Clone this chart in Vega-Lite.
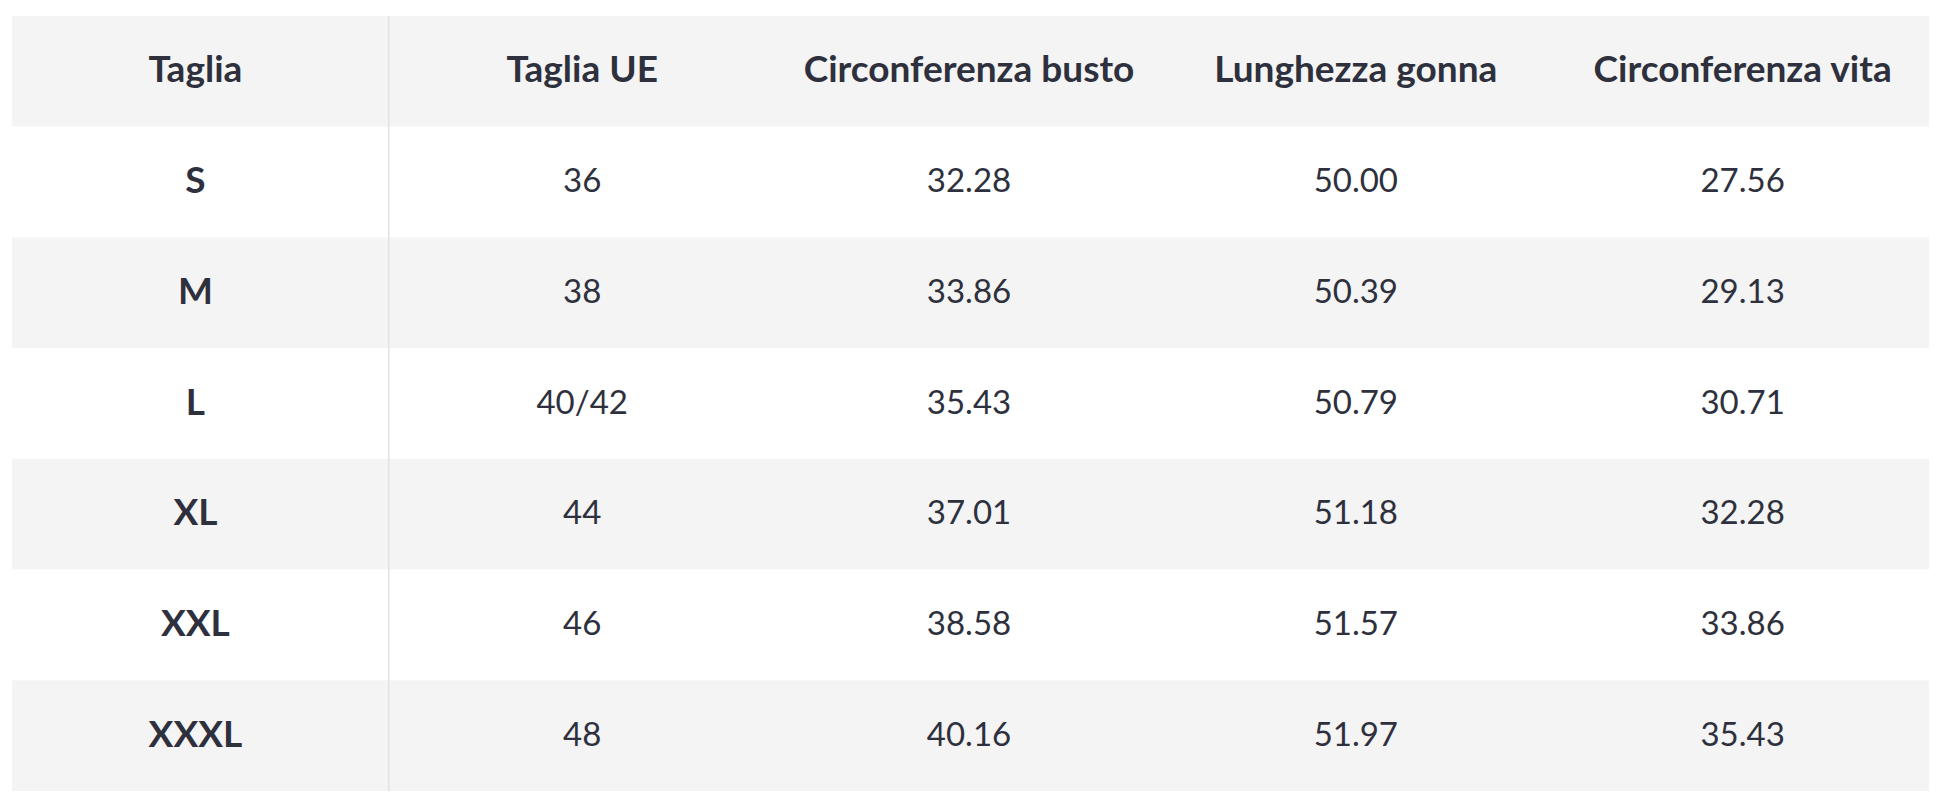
{
  "$schema": "https://vega.github.io/schema/vega-lite/v6.json",
  "width": 1945,
  "height": 809,
  "autosize": {"type": "fit", "contains": "padding"},
  "padding": {"left": 12, "right": 16, "top": 15, "bottom": 17},
  "background": "white",
  "config": {"view": {"stroke": null}},
  "datasets": {
    "sizes": [
      {"Taglia": "S", "Taglia UE": "36", "Circonferenza busto": "32.28", "Lunghezza gonna": "50.00", "Circonferenza vita": "27.56"},
      {"Taglia": "M", "Taglia UE": "38", "Circonferenza busto": "33.86", "Lunghezza gonna": "50.39", "Circonferenza vita": "29.13"},
      {"Taglia": "L", "Taglia UE": "40/42", "Circonferenza busto": "35.43", "Lunghezza gonna": "50.79", "Circonferenza vita": "30.71"},
      {"Taglia": "XL", "Taglia UE": "44", "Circonferenza busto": "37.01", "Lunghezza gonna": "51.18", "Circonferenza vita": "32.28"},
      {"Taglia": "XXL", "Taglia UE": "46", "Circonferenza busto": "38.58", "Lunghezza gonna": "51.57", "Circonferenza vita": "33.86"},
      {"Taglia": "XXXL", "Taglia UE": "48", "Circonferenza busto": "40.16", "Lunghezza gonna": "51.97", "Circonferenza vita": "35.43"}
    ],
    "rows": [
      {"row": "Header"}, {"row": "S"}, {"row": "M"}, {"row": "L"}, {"row": "XL"}, {"row": "XXL"}, {"row": "XXXL"}
    ],
    "columns": [
      {"col": "Taglia"}, {"col": "Taglia UE"}, {"col": "Circonferenza busto"}, {"col": "Lunghezza gonna"}, {"col": "Circonferenza vita"}
    ]
  },
  "layer": [
    {
      "data": {"name": "rows"},
      "mark": {"type": "rect"},
      "encoding": {
        "y": {"field": "row", "type": "nominal", "scale": {"domain": ["Header", "S", "M", "L", "XL", "XXL", "XXXL"], "paddingInner": 0, "paddingOuter": 0}, "axis": null},
        "fill": {"field": "row", "type": "nominal", "scale": {"domain": ["Header", "S", "M", "L", "XL", "XXL", "XXXL"], "range": ["#f4f4f4", "#ffffff", "#f4f4f4", "#ffffff", "#f4f4f4", "#ffffff", "#f4f4f4"]}, "legend": null}
      }
    },
    {
      "data": {"name": "columns"},
      "mark": {"type": "rule", "color": "#e2e2e2", "strokeWidth": 1.5},
      "transform": [{"filter": "datum.col === 'Taglia UE'"}],
      "encoding": {
        "x": {"field": "col", "type": "nominal", "bandPosition": 0, "scale": {"domain": ["Taglia", "Taglia UE", "Circonferenza busto", "Lunghezza gonna", "Circonferenza vita"], "range": [-10, 1924], "paddingInner": 0, "paddingOuter": 0}, "axis": null}
      }
    },
    {
      "data": {"name": "columns"},
      "mark": {"type": "text", "font": "Lato", "fontSize": 37, "fontWeight": "bold", "color": "#2e313d"},
      "encoding": {
        "x": {"field": "col", "type": "nominal", "axis": null},
        "y": {"datum": "Header", "type": "nominal"},
        "text": {"field": "col"}
      }
    },
    {
      "data": {"name": "sizes"},
      "mark": {"type": "text", "font": "Lato", "fontSize": 37, "fontWeight": "bold", "color": "#2e313d"},
      "encoding": {
        "x": {"datum": "Taglia", "type": "nominal"},
        "y": {"field": "Taglia", "type": "nominal"},
        "text": {"field": "Taglia"}
      }
    },
    {
      "data": {"name": "sizes"},
      "transform": [{"fold": ["Taglia UE", "Circonferenza busto", "Lunghezza gonna", "Circonferenza vita"], "as": ["col", "value"]}],
      "mark": {"type": "text", "font": "Lato", "fontSize": 33, "color": "#2e313d"},
      "encoding": {
        "x": {"field": "col", "type": "nominal"},
        "y": {"field": "Taglia", "type": "nominal"},
        "text": {"field": "value"}
      }
    }
  ]
}
